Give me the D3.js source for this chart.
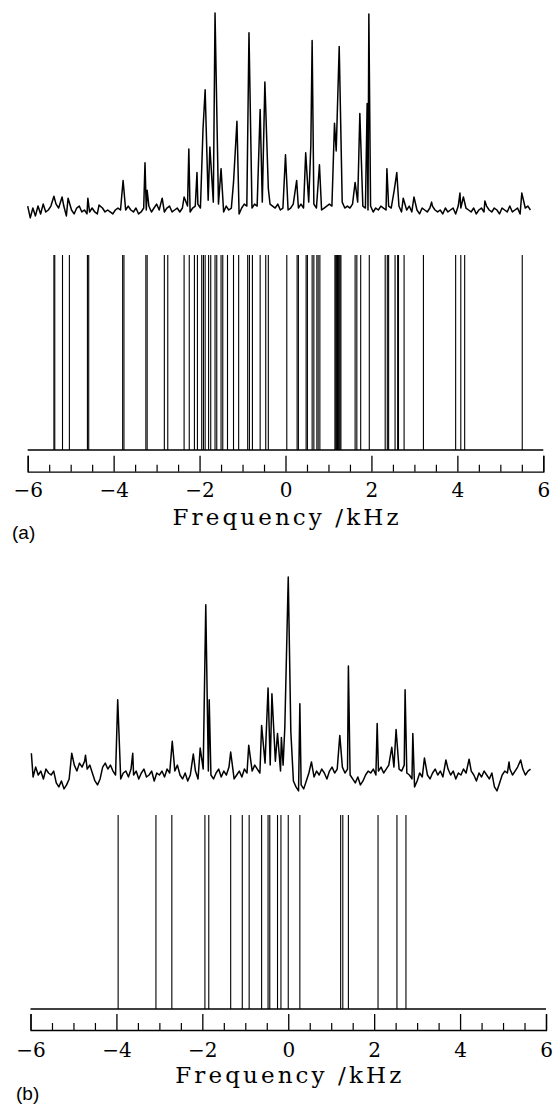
<!DOCTYPE html>
<html>
<head>
<meta charset="utf-8">
<script src="https://cdn.jsdelivr.net/npm/d3@7"></script>
<style>
  body { margin: 0; background: #fff; }
  svg { display: block; }
</style>
</head>
<body>
<div id="chart"></div>
<script>
// Baseline noise is sampled every 0.06 kHz starting at -6 kHz
const noiseStart = -6.0;
const noiseStep = 0.06;

// (a) experimental trace: baseline noise + resolved lines (arb. units, tallest = 100)
const noiseA = [
  2, -4, 1, -3, 2, -2, 3, -1, 0, 2, -2, 3, 1, -1, 2, -3, 1, 0, -2, 1,
  2, -1, 0, -2, -1, 1, -1, -2, 0, 1, -1, 0, -1, -2, 0, 1, 0, -1, 0, 2,
  0, -1, 1, -2, -1, 1, 0, 2, -1, 1, 3, 0, 2, -1, 1, 2, -1, 0, 1, -1,
  1, 0, 2, -1, 1, 2, 3, 1, 4, 2, 5, 3, 4, 2, 3, 1, -1, 2, 0, 1,
  2, 0, -2, 1, 3, 2, 4, 1, 3, 2, 0, 4, 2, 1, 3, 2, 1, 3, 0, 1,
  2, 0, 1, 3, 2, 1, 3, 1, 2, 4, 2, 3, 1, 2, 0, 1, 2, 3, 2, 4,
  3, 2, 4, 1, 2, 1, 3, 2, 4, 3, 2, 1, 0, 2, -1, 1, 0, 2, 1, 0,
  2, 1, 3, 0, 2, -1, 1, 0, 2, -1, 1, 0, -2, 1, 0, -1, 1, 2, 0, -1,
  0, -2, 1, -1, 0, 1, -2, 2, 1, 3, 1, 0, -1, 1, -2, 0, 1, -1, 2, 0,
  -1, 1, 0, -2, 1, 0, -1, 2, -1, 0, 1, -2, 0, 1, 2, 0
];
const peakFreqA = [-5.39, -5.20, -5.06, -4.60, -4.34, -3.78, -3.27, -3.22, -2.87, -2.36,
  -2.25, -2.06, -1.92, -1.87, -1.76, -1.64, -1.50, -1.21, -1.13, -0.85,
  -0.59, -0.48, -0.40, 0.00, 0.26, 0.47, 0.59, 0.62, 0.79, 1.14,
  1.18, 1.25, 1.62, 1.73, 1.90, 1.94, 2.36, 2.53, 2.59, 2.74,
  2.99, 3.40, 4.06, 4.14, 4.64, 5.50];
const peakHeightA = [7, 6.6, 6, 6, 2.5, 15, 24, 10, 6, 6.6,
  31, 19, 41, 61, 32, 100, 21, 14, 45, 90,
  51, 65, 11, 28, 15, 29, 33, 86, 23, 44,
  30, 83, 14, 49, 54, 99.5, 21, 10, 19, 6,
  6.6, 4, 8.6, 6.6, 4.6, 8.6];

// (a) calculated line positions (kHz)
const stickFreqA = [-5.39, -5.37, -5.19, -5.03, -4.61, -4.58, -3.79, -3.76, -3.25, -3.22,
  -2.82, -2.74, -2.36, -2.24, -2.12, -2.05, -1.95, -1.91, -1.87, -1.79,
  -1.74, -1.64, -1.60, -1.50, -1.46, -1.35, -1.21, -1.09, -0.88, -0.84,
  -0.77, -0.59, -0.46, -0.40, 0.03, 0.27, 0.30, 0.48, 0.51, 0.62,
  0.66, 0.73, 0.76, 0.80, 1.15, 1.17, 1.19, 1.21, 1.23, 1.25,
  1.27, 1.29, 1.62, 1.66, 1.75, 1.95, 2.32, 2.37, 2.40, 2.55,
  2.61, 2.63, 2.76, 3.21, 3.96, 4.08, 4.17, 5.51];

// (b) experimental trace
const noiseB = [
  2, -1, 4, 0, 2, -2, 3, 1, 0, 2, -4, -6, -3, -7, -5, -2, 3, 5, 2, 6,
  4, 7, 3, 5, 1, -3, -5, -2, 4, 6, 3, 5, 2, 0, 3, -2, 1, 2, -1, 3,
  0, 2, -2, 1, 3, -1, 0, 2, -3, 1, 0, 2, -1, 3, 1, 4, 2, 5, 0, -2,
  1, -3, 0, -1, 2, -2, 1, 3, 4, 2, 0, -2, 1, 3, -1, 2, 0, 4, 1, -2,
  0, 2, -1, 3, 1, 4, 2, 5, 3, 1, 4, 6, 2, 5, 3, 7, 4, 2, 5, 3,
  4, 1, -3, -6, -8, -5, -7, -3, 1, 3, -1, 2, 0, 3, 1, -2, 2, 4, 1, 3,
  2, 4, 1, 3, 0, -2, -4, -1, -5, -3, 0, 2, 1, 3, 0, 2, 4, 1, 3, 5,
  2, 4, 1, 3, 2, 5, 1, 0, -2, -6, -3, 1, -1, 2, 0, -2, 1, 3, 0, 2,
  -1, 1, 3, 0, 2, -2, 1, 0, 3, 1, -1, 2, 0, -3, 1, -1, 2, 0, -2, 1,
  -6, -8, -4, 0, 2, 1, 3, 0, 2, 4, 1, 3, 0, 2, 3
];
const peakFreqB = [-5.98, -5.04, -4.72, -3.97, -3.62, -2.70, -2.21, -2.05, -1.92, -1.84,
  -1.34, -0.92, -0.62, -0.47, -0.38, -0.25, -0.16, -0.08, 0.00, 0.06,
  0.27, 0.54, 1.20, 1.40, 2.07, 2.41, 2.51, 2.72, 2.90, 3.17,
  3.67, 4.21, 5.14, 5.41];
const peakHeightB = [11, 11, 10, 38, 11, 17, 10.6, 13.6, 86, 38,
  11.6, 15, 25, 44, 41, 21, 19, 24, 100, 22,
  36, 6.6, 20, 55, 26, 14, 23, 43, 21, 8.6,
  7.6, 8, 6.6, 7.6];

// (b) calculated line positions (kHz)
const stickFreqB = [-3.96, -3.08, -2.71, -1.94, -1.85, -1.34, -1.07, -0.91, -0.62, -0.47,
  -0.43, -0.25, -0.17, 0.00, 0.27, 1.22, 1.27, 1.40, 2.09, 2.53, 2.74];

// Frequency axis ticks
const majorTicks = [-6, -4, -2, 0, 2, 4, 6];
const minorTicks = [-5.5, -5, -4.5, -3.5, -3, -2.5, -1.5, -1, -0.5,
  0.5, 1, 1.5, 2.5, 3, 3.5, 4.5, 5, 5.5];

const serif = "'DejaVu Serif', 'Liberation Serif', serif";

const svg = d3.select("#chart")
  .append("svg")
  .attr("width", 553)
  .attr("height", 1105);

svg.append("rect").attr("width", 553).attr("height", 1105).attr("fill", "#fff");

// merge noise samples and peak maxima into one trace, sorted by frequency
function buildTrace(noise, peakFreq, peakHeight) {
  const pts = [];
  noise.forEach((v, i) => {
    const f = noiseStart + i * noiseStep;
    if (!peakFreq.some(p => Math.abs(p - f) < 0.02)) pts.push({ f: f, v: v });
  });
  peakFreq.forEach((f, i) => pts.push({ f: f, v: peakHeight[i] }));
  return pts.sort((a, b) => a.f - b.f);
}

function drawPanel(p) {
  const x = d3.scaleLinear().domain([-6, 6]).range(p.xRange);
  const ySpec = d3.scaleLinear().domain([0, 100]).range(p.specY);
  const yStick = d3.scaleLinear().domain([0, 1]).range(p.stickY);

  const g = svg.append("g");

  // experimental spectrum
  const line = d3.line().x(d => x(d.f)).y(d => ySpec(d.v));
  g.append("path")
    .datum(buildTrace(p.noise, p.peakFreq, p.peakHeight))
    .attr("d", line)
    .attr("fill", "none")
    .attr("stroke", "#000")
    .attr("stroke-width", 1.5)
    .attr("stroke-linejoin", "round");

  // stick spectrum
  g.append("line")
    .attr("x1", x(-6)).attr("x2", x(6))
    .attr("y1", yStick(0)).attr("y2", yStick(0))
    .attr("stroke", "#000").attr("stroke-width", 1.3);

  g.selectAll("line.stick")
    .data(p.sticks)
    .enter().append("line")
    .attr("class", "stick")
    .attr("x1", d => x(d)).attr("x2", d => x(d))
    .attr("y1", yStick(0)).attr("y2", yStick(1))
    .attr("stroke", "#000")
    .attr("stroke-width", 1.1);

  // ruler-style axis: ticks point up from the bottom line
  const axis = g.append("g")
    .attr("transform", `translate(0,${p.axisY})`)
    .call(d3.axisBottom(x)
      .tickValues(majorTicks)
      .tickSizeInner(-16)
      .tickSizeOuter(-16)
      .tickPadding(p.labelPad)
      .tickFormat(d3.format("d")));
  axis.attr("font-family", serif);
  axis.select(".domain").attr("stroke-width", 1.3);
  axis.selectAll(".tick line").attr("stroke-width", 1.3);
  axis.selectAll(".tick text")
    .attr("font-family", serif)
    .attr("font-size", 20)
    .attr("fill", "#000");

  g.append("g")
    .attr("transform", `translate(0,${p.axisY})`)
    .call(d3.axisBottom(x)
      .tickValues(minorTicks)
      .tickSize(-7)
      .tickFormat(""))
    .call(a => a.select(".domain").remove())
    .selectAll(".tick line").attr("stroke-width", 1.2);

  g.append("text")
    .attr("x", x(0))
    .attr("y", p.titleY)
    .attr("text-anchor", "middle")
    .attr("font-family", serif)
    .attr("font-size", 23)
    .attr("textLength", 226)
    .attr("lengthAdjust", "spacing")
    .text("Frequency /kHz");

  g.append("text")
    .attr("x", p.tagX)
    .attr("y", p.tagY)
    .attr("font-family", "'Liberation Sans', Arial, sans-serif")
    .attr("font-size", 19)
    .text(p.tag);
}

drawPanel({
  xRange: [27.7, 543.3], specY: [210, 13], stickY: [450, 255],
  axisY: 471.7, labelPad: 11, titleY: 525, tagX: 12, tagY: 539, tag: "(a)",
  noise: noiseA, peakFreq: peakFreqA, peakHeight: peakHeightA, sticks: stickFreqA
});

drawPanel({
  xRange: [30.5, 546], specY: [775, 577], stickY: [1009, 815],
  axisY: 1030, labelPad: 12.8, titleY: 1083, tagX: 16, tagY: 1100, tag: "(b)",
  noise: noiseB, peakFreq: peakFreqB, peakHeight: peakHeightB, sticks: stickFreqB
});
</script>
</body>
</html>
